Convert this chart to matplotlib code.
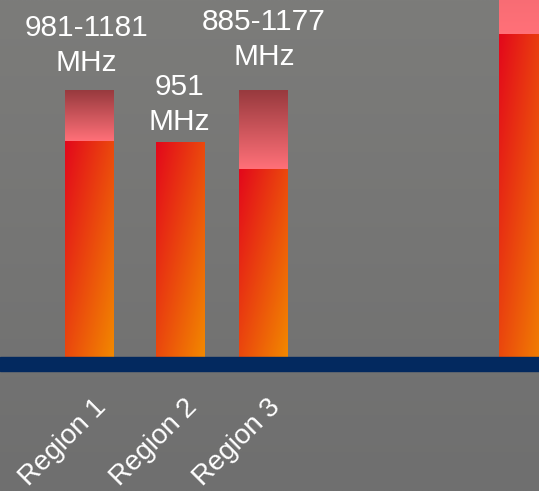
import numpy as np
import matplotlib.pyplot as plt
from matplotlib.colors import to_rgb

# data (bar heights, baseline = 0)
regions = ['Region 1', 'Region 2', 'Region 3', '']
freq_labels = ['981-1181\nMHz', '951\nMHz', '885-1177\nMHz', '']
low_top = [216, 215, 188, 323]
high_top = [267, None, 267, 800]

# layout
centers = [89.5, 180.5, 263.5, 523.5]
bar_w = 49
label_x = [86, 179.5, 264]
label_y = [286, 227, 292]

red, orange = np.array(to_rgb('#e3081b')), np.array(to_rgb('#f28800'))
dark, pink = np.array(to_rgb('#983a3e')), np.array(to_rgb('#ff7078'))
bg_top, bg_bot = np.array(to_rgb('#7c7c7a')), np.array(to_rgb('#6f6f6f'))


def diag_grad(n=120, m=40):
    v = np.linspace(0, 1, n)[:, None]
    u = np.linspace(0, 1, m)[None, :]
    t = (0.5 * (u + v))[..., None]
    return red * (1 - t) + orange * t


def vert_grad(c0, c1, n=80):
    t = np.linspace(0, 1, n)[:, None, None] * np.ones((1, 2, 1))
    return c0 * (1 - t) + c1 * t


fig = plt.figure(figsize=(5.39, 4.91), dpi=100)
fig.patch.set_facecolor('#777775')
ax = fig.add_axes([0, 0, 1, 1])
ax.axis('off')

# background
ax.imshow(vert_grad(bg_top, bg_bot, 200), extent=(0, 539, -134, 357),
          aspect='auto', origin='upper', interpolation='bilinear', zorder=0)

for c, lo, hi in zip(centers, low_top, high_top):
    x0, x1 = c - bar_w / 2, c + bar_w / 2
    ax.imshow(diag_grad(), extent=(x0, x1, 0, lo), aspect='auto',
              origin='upper', interpolation='bilinear', zorder=2)
    if hi is not None:
        ax.imshow(vert_grad(dark, pink), extent=(x0, x1, lo, hi), aspect='auto',
                  origin='upper', interpolation='bilinear', zorder=2)

ax.axhspan(-14, 0, color='#03295f', zorder=3)

for x, y, s in zip(label_x, label_y, freq_labels):
    ax.text(x, y, s, ha='center', va='baseline', color='white',
            fontsize=21.5, family='Liberation Sans', linespacing=1.3, zorder=4)

for c, r in zip(centers, regions):
    if r:
        ax.text(c + 4, -37, r, ha='right', va='top', rotation=45,
                rotation_mode='anchor', color='white', fontsize=20,
                family='Liberation Sans', zorder=4)

ax.set_xlim(0, 539)
ax.set_ylim(-134, 357)
fig.savefig('out.png', dpi=100, facecolor=fig.get_facecolor())
